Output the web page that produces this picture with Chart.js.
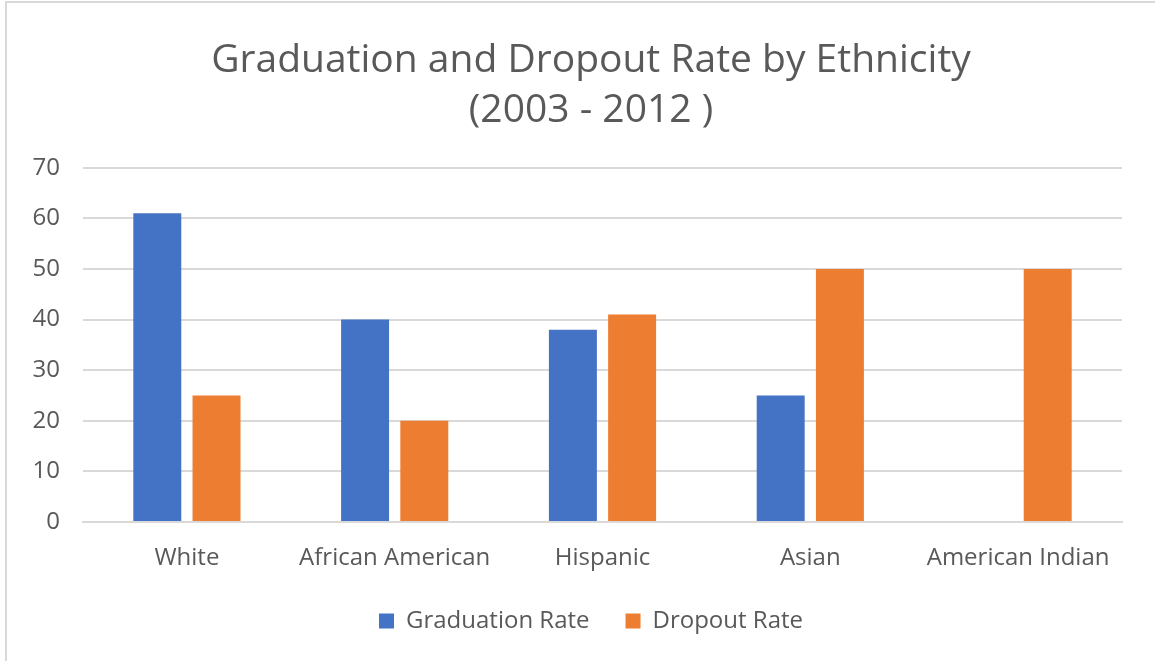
<!DOCTYPE html>
<html>
<head>
<meta charset="utf-8">
<script src="https://cdn.jsdelivr.net/npm/chart.js@4.4.0/dist/chart.umd.min.js"></script>
<style>
  html, body { margin: 0; padding: 0; background: #fff; }
  #wrap { position: relative; width: 1155px; height: 661px; }
  #frame { position: absolute; left: 5px; top: 1px; right: 0; bottom: 0;
           border-left: 2px solid #d9d9d9; border-top: 2px solid #d9d9d9; }
  canvas { position: absolute; left: 0; top: 0; }
</style>
</head>
<body>
<div id="wrap">
  <div id="frame"></div>
  <canvas id="chart" width="1155" height="661"></canvas>
</div>
<script>
const categories = ['White', 'African American', 'Hispanic', 'Asian', 'American Indian'];
const graduationRate = [61, 40, 38, 25, 0];
const dropoutRate = [25, 20, 41, 50, 50];
const yTicks = [0, 10, 20, 30, 40, 50, 60, 70];

const textColor = '#595959';
const font = 'Open Sans, "Noto Sans", sans-serif';

const ctx = document.getElementById('chart').getContext('2d');
new Chart(ctx, {
    type: 'bar',
    data: {
        labels: categories,
        datasets: [{
            label: 'Graduation Rate',
            data: graduationRate,
            backgroundColor: '#4472C4',
            categoryPercentage: 0.57,
            barPercentage: 0.81
        }, {
            label: 'Dropout Rate',
            data: dropoutRate,
            backgroundColor: '#ED7D31',
            categoryPercentage: 0.57,
            barPercentage: 0.81
        }]
    },
    options: {
        responsive: false,
        animation: false,
        layout: { padding: { left: 27, right: 0, top: 0, bottom: 18 } },
        scales: {
            x: {
                grid: { display: false },
                border: { color: '#d9d9d9', width: 2 },
                ticks: { color: textColor, font: { family: font, size: 24 }, padding: 14 },
                afterFit: scale => { scale.height = 51; }
            },
            y: {
                min: 0,
                max: 70,
                afterBuildTicks: scale => { scale.ticks = yTicks.map(v => ({ value: v })); },
                grid: { color: '#d9d9d9', lineWidth: 2, drawTicks: false },
                border: { display: false },
                ticks: { color: textColor, font: { family: font, size: 24 }, padding: 23 },
                afterFit: scale => { scale.width = 56; }
            },
            // empty right-hand spacer so the title and legend sit off-centre like the original
            spacer: {
                position: 'right',
                min: 0,
                max: 70,
                grid: { display: false },
                border: { display: false },
                ticks: { display: false },
                afterFit: scale => { scale.width = 33; }
            }
        },
        plugins: {
            title: {
                display: true,
                text: ['Graduation and Dropout Rate by Ethnicity', '(2003 - 2012 )'],
                color: textColor,
                font: { family: font, size: 39, weight: 'normal', lineHeight: 1.28 },
                padding: { top: 36, bottom: 32 }
            },
            legend: {
                position: 'bottom',
                labels: {
                    color: textColor,
                    font: { family: font, size: 24 },
                    boxWidth: 15,
                    boxHeight: 15,
                    padding: 36
                }
            },
            tooltip: { enabled: false }
        }
    }
});
</script>
</body>
</html>
